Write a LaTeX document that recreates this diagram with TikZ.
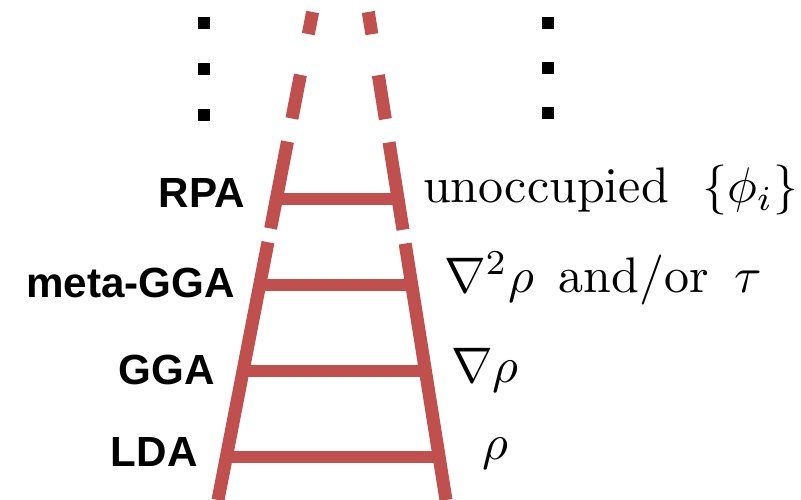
\documentclass[tikz,border=0pt]{standalone}
\usepackage{fontspec}
\newfontfamily\labelfont{Liberation Sans}
\usepackage{tikz}
\definecolor{ladderred}{RGB}{192,80,77}

\begin{document}
\begin{tikzpicture}[
    rail/.style={
        draw=ladderred, line width=0.26cm,
        dash pattern=on 0.45cm off 0.83cm on 0.89cm off 0.47cm on 1.77cm off 0.28cm on 12cm,
    },
    rung/.style={draw=ladderred, line width=0.24cm},
    dotmark/.style={rectangle, fill=black, minimum size=0.24cm, inner sep=0pt},
    rungname/.style={anchor=base east, inner sep=0pt, font=\labelfont\bfseries\fontsize{24}{28}\selectfont},
    ingredient/.style={anchor=base west, inner sep=0pt, scale=2.845},
]
\useasboundingbox (0,0) rectangle (16.02,-10);

% RAILS
\coordinate (ltop) at (6.252,-0.24);
\coordinate (lbot) at (4.36,-10);
\coordinate (rtop) at (7.366,-0.24);
\coordinate (rbot) at (8.92,-10);
\draw[rail] (ltop) -- (lbot);
\draw[rail] (rtop) -- (rbot);

% RUNGS
\coordinate (rpaL) at (5.528,-3.98);
\coordinate (rpaR) at (7.962,-3.98);
\coordinate (metaL) at (5.194,-5.70);
\coordinate (metaR) at (8.236,-5.70);
\coordinate (ggaL) at (4.860,-7.42);
\coordinate (ggaR) at (8.510,-7.42);
\coordinate (ldaL) at (4.526,-9.14);
\coordinate (ldaR) at (8.784,-9.14);
\draw[rung] (rpaL) -- (rpaR);
\draw[rung] (metaL) -- (metaR);
\draw[rung] (ggaL) -- (ggaR);
\draw[rung] (ldaL) -- (ldaR);

% DOTS
\node[dotmark] (ldot1) at (4.08,-0.46) {};
\node[dotmark] (ldot2) at (4.08,-1.38) {};
\node[dotmark] (ldot3) at (4.08,-2.30) {};
\node[dotmark] (rdot1) at (10.96,-0.46) {};
\node[dotmark] (rdot2) at (10.96,-1.37) {};
\node[dotmark] (rdot3) at (10.96,-2.27) {};

% NAMES
\node[rungname] (rpa) at (4.90,-4.16) {RPA};
\node[rungname] (meta) at (4.70,-5.96) {meta-GGA};
\node[rungname] (gga) at (4.30,-7.70) {GGA};
\node[rungname] (lda) at (3.96,-9.34) {LDA};

% INGREDIENTS
\node[ingredient] (unocc) at (8.44,-4.06) {unoccupied\enspace\,$\{\phi_i\}$};
\node[ingredient] (lapl) at (8.86,-5.86) {$\nabla^2\rho$\enspace{}and/or\enspace$\tau$};
\node[ingredient] (grad) at (9.00,-7.66) {$\nabla\rho$};
\node[ingredient] (dens) at (9.62,-9.20) {$\rho$};

\end{tikzpicture}
\end{document}
